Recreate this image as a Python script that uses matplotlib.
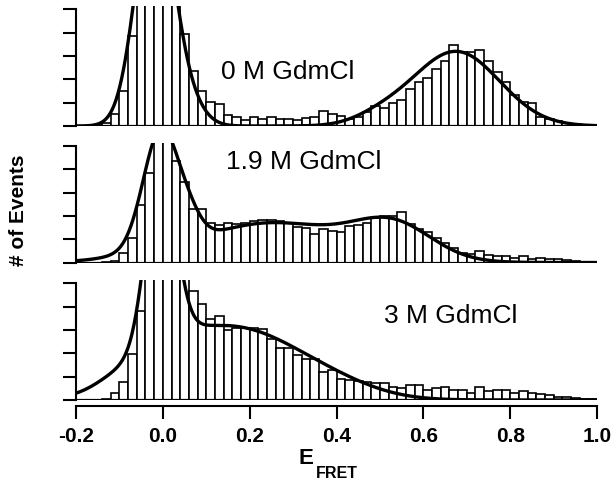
import numpy as np
import matplotlib
matplotlib.use("Agg")
import matplotlib.pyplot as plt

plt.rcParams['font.family'] = ['Liberation Sans', 'DejaVu Sans']

# histogram bins: E_FRET from -0.2 to 1.0, width 0.02
bin_width = 0.02
bin_edges = np.round(np.arange(-0.2, 1.0 + bin_width / 2, bin_width), 2)

# bar heights in units of one y tick (peaks near 0 run off the top)
counts_0M = [0, 0, 0.03, 0.11, 0.5, 1.5, 3.86, 8, 12, 14, 13, 9,
             3.93, 2.36, 1.5, 1.03, 0.93, 0.47, 0.4, 0.24, 0.4, 0.3, 0.38, 0.3,
             0.3, 0.27, 0.33, 0.4, 0.64, 0.5, 0.43, 0.31, 0.4, 0.6, 0.86, 0.79,
             1.0, 1.1, 1.6, 1.88, 2.07, 2.43, 2.81, 3.46, 3.18, 3.17, 3.24, 2.81,
             2.31, 1.89, 1.35, 1.05, 0.97, 0.38, 0.3, 0.21, 0.14, 0.1, 0.06, 0.03]
counts_19M = [0, 0, 0, 0.02, 0.07, 0.39, 1.04, 2.47, 3.86, 6, 6, 4.36,
              3.46, 2.29, 2.29, 1.71, 1.6, 1.71, 1.64, 1.71, 1.79, 1.81, 1.81, 1.79,
              1.71, 1.54, 1.5, 1.22, 1.43, 1.36, 1.29, 1.57, 1.6, 1.69, 1.89, 2.0,
              2.0, 2.17, 1.64, 1.46, 1.29, 1.07, 0.83, 0.61, 0.43, 0.36, 0.51, 0.31,
              0.26, 0.26, 0.21, 0.26, 0.14, 0.2, 0.14, 0.14, 0.09, 0.06, 0.03, 0.03]
counts_3M = [0, 0, 0.02, 0.05, 0.3, 0.79, 1.98, 3.8, 7, 9, 10, 9,
             7, 4.67, 4.1, 3.47, 3.61, 3.02, 3.09, 3.09, 3.09, 3.06, 2.63, 2.21,
             2.21, 1.95, 1.74, 1.77, 1.18, 1.3, 0.88, 0.85, 0.82, 0.78, 0.74, 0.71,
             0.54, 0.5, 0.64, 0.64, 0.43, 0.53, 0.54, 0.43, 0.43, 0.31, 0.54, 0.4,
             0.43, 0.43, 0.28, 0.4, 0.31, 0.24, 0.23, 0.14, 0.11, 0.07, 0.06, 0.04]

# gaussian fit components: centre, width, height
fit_0M_centers = [-0.02, 0.05, 0.5, 0.675]
fit_0M_widths = [0.042, 0.04, 0.06, 0.1]
fit_0M_heights = [10, 1.0, 0.3, 3.2]

fit_19M_centers = [-0.005, 0.06, -0.05, 0.25, 0.53]
fit_19M_widths = [0.04, 0.03, 0.08, 0.17, 0.09]
fit_19M_heights = [5.0, 0.8, 0.15, 1.7, 1.45]

fit_3M_centers = [-0.005, -0.01, -0.11, 0.17, 0.4]
fit_3M_widths = [0.033, 0.09, 0.05, 0.15, 0.1]
fit_3M_heights = [8, 1.0, 0.2, 3.0, 0.35]

labels = ["0 M GdmCl", "1.9 M GdmCl", "3 M GdmCl"]
label_pos = [(0.135, 2.35), (0.145, 4.35), (0.51, 3.65)]

xticks = [-0.2, 0.0, 0.2, 0.4, 0.6, 0.8, 1.0]


def fit_curve(x, centers, widths, heights):
    y = np.zeros_like(x)
    for c, w, h in zip(centers, widths, heights):
        y += h * np.exp(-(x - c) ** 2 / (2 * w ** 2))
    return y


panels = [
    (counts_0M, fit_0M_centers, fit_0M_widths, fit_0M_heights),
    (counts_19M, fit_19M_centers, fit_19M_widths, fit_19M_heights),
    (counts_3M, fit_3M_centers, fit_3M_widths, fit_3M_heights),
]

fig = plt.figure(figsize=(6.15, 4.89), dpi=100)
bottoms = [0.7403, 0.4611, 0.1800]
x_fit = np.linspace(-0.2, 1.0, 800)

for i, (counts, cs, ws, hs) in enumerate(panels):
    ax = fig.add_axes([0.1236, bottoms[i], 0.8472, 0.2454])
    ax.bar(bin_edges[:-1], counts, width=bin_width, align='edge',
           facecolor='white', edgecolor='black', linewidth=1.2)
    ax.plot(x_fit, fit_curve(x_fit, cs, ws, hs), color='black', lw=2.4)
    ax.axhline(0, color='black', lw=1.6)

    ax.set_xlim(-0.2, 1.0)
    ax.set_ylim(0, 5.15)
    ax.set_yticks(range(6))
    ax.set_yticklabels([])
    ax.tick_params(axis='y', direction='out', length=9.5, width=1.5)
    ax.spines['left'].set_bounds(0, 5)
    ax.spines['left'].set_linewidth(1.5)
    ax.spines['top'].set_visible(False)
    ax.spines['right'].set_visible(False)

    ax.text(label_pos[i][0], label_pos[i][1], labels[i], fontsize=19,
            va='center', ha='left')

    if i < 2:
        ax.spines['bottom'].set_visible(False)
        ax.set_xticks([])
    else:
        ax.spines['bottom'].set_position(('outward', 4))
        ax.spines['bottom'].set_linewidth(1.5)
        ax.set_xticks(xticks)
        ax.set_xticklabels([f"{t:.1f}" for t in xticks], fontsize=15,
                           fontweight='bold')
        ax.tick_params(axis='x', direction='out', length=9.5, width=1.5, pad=5)

fig.text(0.497, 0.063, "E", fontsize=16, fontweight='bold', ha='center', va='center')
fig.text(0.513, 0.032, "FRET", fontsize=11.5, fontweight='bold', ha='left', va='center')
fig.text(0.03, 0.57, "# of Events", fontsize=15, fontweight='bold',
         rotation=90, ha='center', va='center')

fig.savefig("out.png", dpi=100)
